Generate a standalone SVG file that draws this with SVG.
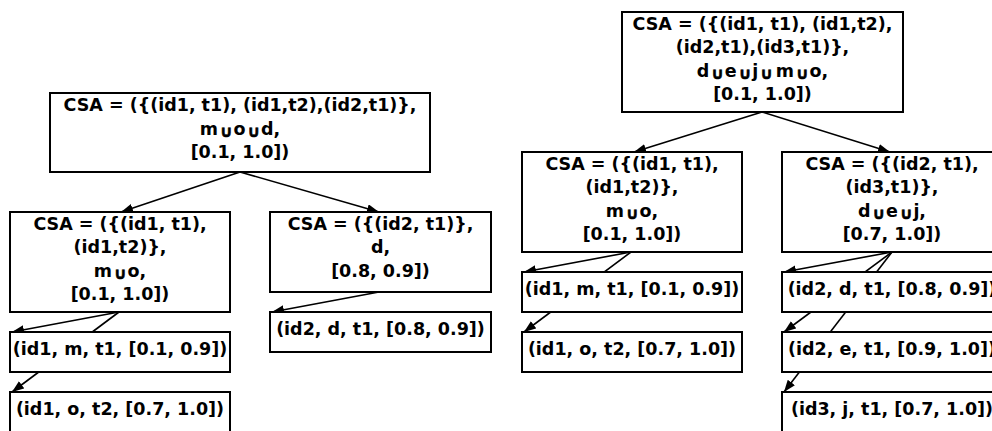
<svg xmlns="http://www.w3.org/2000/svg" width="992" height="431" viewBox="0 0 992 431">
  <defs>
    <marker id="arrow" markerUnits="userSpaceOnUse" markerWidth="13" markerHeight="10" refX="12" refY="4.5" orient="auto">
      <path d="M0,0 L12,4.5 L0,9 z" fill="#000"/>
    </marker>
    <style>
      .box { fill: #fff; stroke: #000; stroke-width: 2; }
      .lbl { font-family: "DejaVu Sans", "Liberation Sans", sans-serif; font-weight: bold; font-size: 17.5px; fill: #000; text-anchor: middle; }
      .cup { font-size: 16px; stroke: #000; stroke-width: 0.6; }
      .edge { stroke: #000; stroke-width: 1.6; fill: none; marker-end: url(#arrow); }
    </style>
  </defs>
  <rect width="992" height="431" fill="#fff"/>

  <!-- connectors are drawn first so that the white boxes mask where lines pass behind them -->
  <g id="connectors">
    <!-- left tree -->
    <line class="edge" x1="240" y1="172" x2="121" y2="212"/>
    <line class="edge" x1="240" y1="172" x2="379" y2="212"/>
    <line class="edge" x1="119" y1="312" x2="12" y2="332"/>
    <line class="edge" x1="119" y1="312" x2="12" y2="392"/>
    <line class="edge" x1="379" y1="292" x2="272" y2="312"/>
    <!-- right tree -->
    <line class="edge" x1="762" y1="112" x2="634" y2="152"/>
    <line class="edge" x1="762" y1="112" x2="890" y2="152"/>
    <line class="edge" x1="631" y1="252" x2="524" y2="272"/>
    <line class="edge" x1="631" y1="252" x2="524" y2="332"/>
    <line class="edge" x1="892" y1="252" x2="784" y2="272"/>
    <line class="edge" x1="892" y1="252" x2="784" y2="332"/>
    <line class="edge" x1="892" y1="252" x2="784" y2="392"/>
  </g>

  <!-- left tree -->
  <g id="L_root">
    <rect class="box" x="50" y="93" width="380" height="79"/>
    <text class="lbl" x="240" y="111">CSA = ({(id1, t1), (id1,t2),(id2,t1)},</text>
    <text class="lbl" x="240" y="134.5">m<tspan class="cup" dx="1.5" dy="2.5">∪</tspan><tspan dx="1" dy="-2.5">o</tspan><tspan class="cup" dx="1.5" dy="2.5">∪</tspan><tspan dx="1" dy="-2.5">d,</tspan></text>
    <text class="lbl" x="240" y="158">[0.1, 1.0])</text>
  </g>
  <g id="L_a">
    <rect class="box" x="10" y="212" width="220" height="100"/>
    <text class="lbl" x="120" y="229.5">CSA = ({(id1, t1),</text>
    <text class="lbl" x="120" y="253">(id1,t2)},</text>
    <text class="lbl" x="120" y="276.5">m<tspan class="cup" dx="1.5" dy="2.5">∪</tspan><tspan dx="1" dy="-2.5">o,</tspan></text>
    <text class="lbl" x="120" y="300">[0.1, 1.0])</text>
  </g>
  <g id="L_a1">
    <rect class="box" x="10" y="332" width="220" height="40"/>
    <text class="lbl" x="120" y="355">(id1, m, t1, [0.1, 0.9])</text>
  </g>
  <g id="L_a2">
    <rect class="box" x="10" y="392" width="220" height="40"/>
    <text class="lbl" x="120" y="415">(id1, o, t2, [0.7, 1.0])</text>
  </g>
  <g id="L_b">
    <rect class="box" x="270" y="212" width="221" height="80"/>
    <text class="lbl" x="380.5" y="229.5">CSA = ({(id2, t1)},</text>
    <text class="lbl" x="380.5" y="253">d,</text>
    <text class="lbl" x="380.5" y="276.5">[0.8, 0.9])</text>
  </g>
  <g id="L_b1">
    <rect class="box" x="270" y="312" width="221" height="40"/>
    <text class="lbl" x="380.5" y="335">(id2, d, t1, [0.8, 0.9])</text>
  </g>

  <!-- right tree -->
  <g id="R_root">
    <rect class="box" x="622" y="12" width="281" height="100"/>
    <text class="lbl" x="762.5" y="29.5">CSA = ({(id1, t1), (id1,t2),</text>
    <text class="lbl" x="762.5" y="53">(id2,t1),(id3,t1)},</text>
    <text class="lbl" x="762.5" y="76.5">d<tspan class="cup" dx="1.5" dy="2.5">∪</tspan><tspan dx="1" dy="-2.5">e</tspan><tspan class="cup" dx="1.5" dy="2.5">∪</tspan><tspan dx="1" dy="-2.5">j</tspan><tspan class="cup" dx="1.5" dy="2.5">∪</tspan><tspan dx="3" dy="-2.5">m</tspan><tspan class="cup" dx="1.5" dy="2.5">∪</tspan><tspan dx="1" dy="-2.5">o,</tspan></text>
    <text class="lbl" x="762.5" y="100">[0.1, 1.0])</text>
  </g>
  <g id="R_a">
    <rect class="box" x="522" y="152" width="220" height="100"/>
    <text class="lbl" x="632" y="169.5">CSA = ({(id1, t1),</text>
    <text class="lbl" x="632" y="193">(id1,t2)},</text>
    <text class="lbl" x="632" y="216.5">m<tspan class="cup" dx="1.5" dy="2.5">∪</tspan><tspan dx="1" dy="-2.5">o,</tspan></text>
    <text class="lbl" x="632" y="240">[0.1, 1.0])</text>
  </g>
  <g id="R_a1">
    <rect class="box" x="522" y="272" width="220" height="40"/>
    <text class="lbl" x="632" y="295">(id1, m, t1, [0.1, 0.9])</text>
  </g>
  <g id="R_a2">
    <rect class="box" x="522" y="332" width="220" height="40"/>
    <text class="lbl" x="632" y="355">(id1, o, t2, [0.7, 1.0])</text>
  </g>
  <g id="R_b">
    <rect class="box" x="782" y="152" width="220" height="100"/>
    <text class="lbl" x="892" y="169.5">CSA = ({(id2, t1),</text>
    <text class="lbl" x="892" y="193">(id3,t1)},</text>
    <text class="lbl" x="892" y="216.5">d<tspan class="cup" dx="1.5" dy="2.5">∪</tspan><tspan dx="1" dy="-2.5">e</tspan><tspan class="cup" dx="1.5" dy="2.5">∪</tspan><tspan dx="1" dy="-2.5">j,</tspan></text>
    <text class="lbl" x="892" y="240">[0.7, 1.0])</text>
  </g>
  <g id="R_b1">
    <rect class="box" x="782" y="272" width="220" height="40"/>
    <text class="lbl" x="892" y="295">(id2, d, t1, [0.8, 0.9])</text>
  </g>
  <g id="R_b2">
    <rect class="box" x="782" y="332" width="220" height="40"/>
    <text class="lbl" x="892" y="355">(id2, e, t1, [0.9, 1.0])</text>
  </g>
  <g id="R_b3">
    <rect class="box" x="782" y="392" width="220" height="40"/>
    <text class="lbl" x="892" y="415">(id3, j, t1, [0.7, 1.0])</text>
  </g>
</svg>
